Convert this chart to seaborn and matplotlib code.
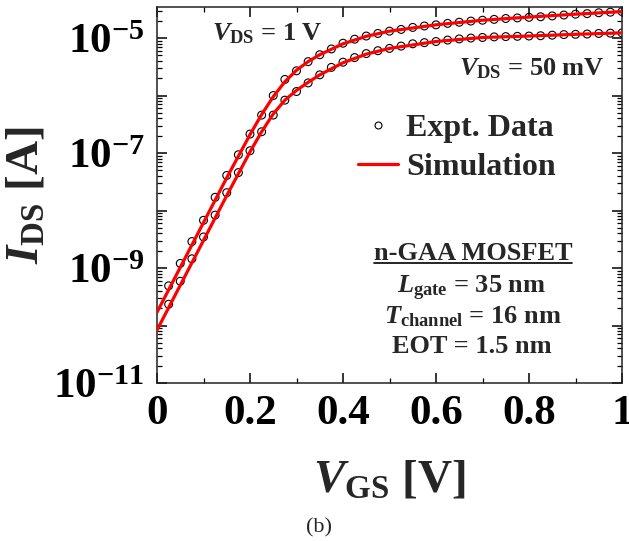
import numpy as np
import pandas as pd
import matplotlib
matplotlib.use("Agg")
import matplotlib.pyplot as plt
import seaborn as sns
from matplotlib.ticker import LogLocator, MultipleLocator, FuncFormatter, NullFormatter
from matplotlib.lines import Line2D

# ---------------- data (log10 of I_DS in A) ----------------
vgs_expt = [0.025, 0.05, 0.075, 0.1, 0.125, 0.15, 0.175, 0.2, 0.225, 0.25,
            0.275, 0.3, 0.325, 0.35, 0.375, 0.4, 0.425, 0.45, 0.475, 0.5,
            0.525, 0.55, 0.575, 0.6, 0.625, 0.65, 0.675, 0.7, 0.725, 0.75,
            0.775, 0.8, 0.825, 0.85, 0.875, 0.9, 0.925, 0.95, 0.975, 1.0]
log_ids_expt_1v = [-9.31, -8.92, -8.54, -8.17, -7.77, -7.39, -7.03, -6.67, -6.34, -6.00,
                   -5.72, -5.57, -5.41, -5.29, -5.19, -5.09, -5.02, -4.965, -4.92, -4.88,
                   -4.85, -4.815, -4.79, -4.77, -4.745, -4.725, -4.705, -4.69, -4.675, -4.66,
                   -4.65, -4.64, -4.63, -4.615, -4.60, -4.585, -4.575, -4.56, -4.55, -4.54]
log_ids_expt_50mv = [-9.63, -9.23, -8.84, -8.46, -8.08, -7.69, -7.34, -6.96, -6.63, -6.34,
                     -6.08, -5.93, -5.78, -5.64, -5.51, -5.42, -5.34, -5.27, -5.22, -5.18,
                     -5.14, -5.10, -5.08, -5.06, -5.035, -5.015, -5.00, -4.99, -4.98, -4.975,
                     -4.97, -4.965, -4.96, -4.95, -4.94, -4.935, -4.93, -4.92, -4.915, -4.91]

vgs_sim = [0.0, 0.05, 0.1, 0.15, 0.2, 0.225, 0.25, 0.275, 0.3, 0.325, 0.35,
           0.4, 0.45, 0.5, 0.6, 0.7, 0.8, 0.9, 1.0]
log_ids_sim_1v = [-9.77, -8.99, -8.21, -7.43, -6.68, -6.33, -6.02, -5.76, -5.56, -5.41, -5.29,
                  -5.10, -4.97, -4.88, -4.77, -4.69, -4.635, -4.585, -4.54]
log_ids_sim_50mv = [-10.08, -9.30, -8.52, -7.74, -6.98, -6.63, -6.32, -6.08, -5.91, -5.77, -5.64,
                    -5.43, -5.28, -5.18, -5.06, -4.99, -4.965, -4.935, -4.91]

vds_labels = ["1 V", "50 mV"]
x_ticks = [0, 0.2, 0.4, 0.6, 0.8, 1.0]
x_tick_labels = ["0", "0.2", "0.4", "0.6", "0.8", "1"]

df_expt = pd.DataFrame({
    "VGS": vgs_expt * 2,
    "IDS": list(10 ** np.array(log_ids_expt_1v)) + list(10 ** np.array(log_ids_expt_50mv)),
    "VDS": [vds_labels[0]] * len(vgs_expt) + [vds_labels[1]] * len(vgs_expt),
})
df_sim = pd.DataFrame({
    "VGS": vgs_sim * 2,
    "IDS": list(10 ** np.array(log_ids_sim_1v)) + list(10 ** np.array(log_ids_sim_50mv)),
    "VDS": [vds_labels[0]] * len(vgs_sim) + [vds_labels[1]] * len(vgs_sim),
})

# ---------------- style ----------------
sns.set_style("ticks")
plt.rcParams["font.family"] = ["Liberation Serif", "DejaVu Serif"]
plt.rcParams["font.weight"] = "bold"
plt.rcParams["mathtext.fontset"] = "custom"
plt.rcParams["mathtext.rm"] = "Liberation Serif:bold"
plt.rcParams["mathtext.bf"] = "Liberation Serif:bold"
plt.rcParams["mathtext.it"] = "Liberation Serif:italic:bold"

fig = plt.figure(figsize=(6.29, 5.41), dpi=100)
W, H = 629, 541
ax = fig.add_axes([157 / W, 1 - 383 / H, 465 / W, 376 / H])

sns.scatterplot(data=df_expt, x="VGS", y="IDS", hue="VDS", palette=["black", "black"],
                marker="o", s=32, linewidth=0.8, legend=False, ax=ax, zorder=2)
for coll in ax.collections:
    coll.set_facecolor("none")
    coll.set_edgecolor("black")

sns.lineplot(data=df_sim, x="VGS", y="IDS", hue="VDS", palette=["red", "red"],
             estimator=None, sort=False, linewidth=2.3, legend=False, ax=ax, zorder=3)

ax.set_yscale("log")
ax.set_xlim(0, 1)
ax.set_ylim(1e-11, 10 ** -4.46)

ax.xaxis.set_major_locator(MultipleLocator(0.2))
ax.xaxis.set_minor_locator(MultipleLocator(0.1))
ax.set_xticks(x_ticks)
ax.set_xticklabels(x_tick_labels)

ax.yaxis.set_major_locator(LogLocator(base=10, numticks=20))
ax.yaxis.set_minor_locator(LogLocator(base=10, subs=np.arange(2, 10), numticks=100))
ax.yaxis.set_minor_formatter(NullFormatter())


def yfmt(v, pos):
    e = int(round(np.log10(v)))
    return r"$\mathbf{10^{%d}}$" % e if e % 2 else ""


ax.yaxis.set_major_formatter(FuncFormatter(yfmt))

ax.tick_params(which="both", direction="in", top=True, right=True, colors="black")
ax.tick_params(which="major", length=7, width=1.1, labelsize=31, pad=9)
ax.tick_params(which="minor", length=3.5, width=0.9)
for lab in ax.get_xticklabels() + ax.get_yticklabels():
    lab.set_fontweight("bold")
for sp in ax.spines.values():
    sp.set_linewidth(1.1)
    sp.set_color("#222222")

ax.set_xlabel(r"$\mathit{V}_{\mathbf{GS}}$ [V]", fontsize=34, fontweight="bold", labelpad=19)
ax.set_ylabel(r"$\mathit{I}_{\mathbf{DS}}$ [A]", fontsize=34, fontweight="bold", labelpad=4)

# legend
h_expt = Line2D([], [], marker="o", ls="none", mfc="none", mec="black", ms=5, mew=0.8)
h_sim = Line2D([], [], color="red", lw=2.3)
ax.legend([h_expt, h_sim], ["Expt. Data", "Simulation"], loc="center left",
          bbox_to_anchor=(0.432, 0.625), frameon=False, prop={"size": 23, "weight": "bold"},
          handlelength=1.25, handletextpad=0.25, labelspacing=0.3, borderpad=0,
          borderaxespad=0)

# annotations
fs = 19
fig.text(267 / W, 1 - 40 / H, r"$\mathit{V}_{\mathbf{DS}}$ = 1 V", ha="center", va="baseline",
         fontsize=fs, fontweight="bold")
fig.text(532 / W, 1 - 75 / H, r"$\mathit{V}_{\mathbf{DS}}$ = 50 mV", ha="center", va="baseline",
         fontsize=fs, fontweight="bold")
t_head = fig.text(473 / W, 1 - 260 / H, "n-GAA MOSFET", ha="center", va="baseline",
                  fontsize=fs, fontweight="bold")
fig.text(472 / W, 1 - 293 / H, r"$\mathit{L}_{\mathbf{gate}}$ = 35 nm", ha="center", va="baseline",
         fontsize=fs, fontweight="bold")
fig.text(473 / W, 1 - 323 / H, r"$\mathit{T}_{\mathbf{channel}}$ = 16 nm", ha="center",
         va="baseline", fontsize=fs, fontweight="bold")
fig.text(472 / W, 1 - 353 / H, "EOT = 1.5 nm", ha="center", va="baseline",
         fontsize=fs, fontweight="bold")
fig.text(319 / W, 1 - 528 / H, "(b)", ha="center", va="center", fontsize=16, fontweight="normal")

# underline for heading
fig.canvas.draw()
bb = t_head.get_window_extent().transformed(fig.transFigure.inverted())
fig.add_artist(Line2D([bb.x0, bb.x1], [1 - 263 / H, 1 - 263 / H], color="black", lw=1.2,
                      transform=fig.transFigure))

fig.savefig("out.png", dpi=100)
